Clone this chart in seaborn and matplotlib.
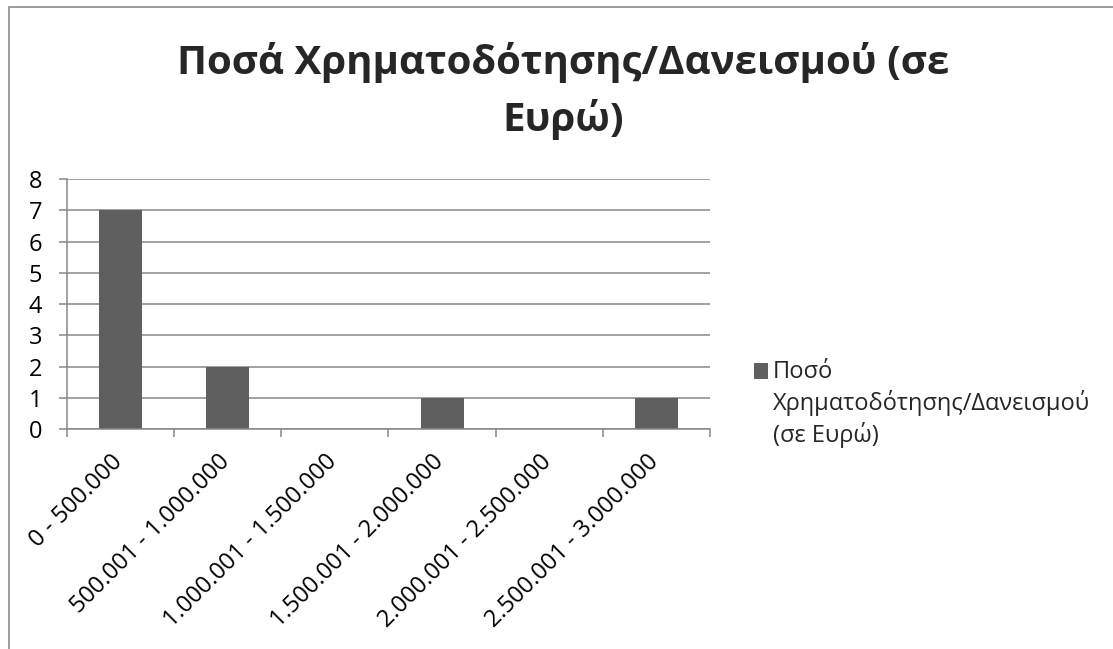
import matplotlib
matplotlib.use("Agg")
import matplotlib.pyplot as plt
import matplotlib.transforms as mtransforms
from matplotlib.patches import Rectangle
from matplotlib.legend_handler import HandlerPatch
import seaborn as sns
import pandas as pd
import numpy as np

categories = ["0 - 500.000", "500.001 - 1.000.000", "1.000.001 - 1.500.000",
              "1.500.001 - 2.000.000", "2.000.001 - 2.500.000", "2.500.001 - 3.000.000"]
values = [7, 2, 0, 1, 0, 1]
title = "Ποσά Χρηματοδότησης/Δανεισμού (σε\nΕυρώ)"
series_label = "Ποσό\nΧρηματοδότησης/Δανεισμού\n(σε Ευρώ)"
y_ticks = [0, 1, 2, 3, 4, 5, 6, 7, 8]

sns.set_theme(style="white")
plt.rcParams["font.family"] = ["Open Sans", "DejaVu Sans"]

BAR = "#5f5f5f"
GRID = "#878787"
FS = 17

fig = plt.figure(figsize=(11.13, 6.49), dpi=100)
ax = fig.add_axes([67/1113, 1-429/649, (710-67)/1113, (429-179)/649])

df = pd.DataFrame({"cat": categories, "val": values})
sns.barplot(data=df, x="cat", y="val", color=BAR, width=0.4, saturation=1, ax=ax,
            edgecolor=BAR, linewidth=0)

ax.set_xlim(-0.5, len(categories)-0.5)
ax.set_ylim(0, 8)
ax.set_xlabel("")
ax.set_ylabel("")

# y axis
ax.set_yticks(y_ticks)
ax.set_yticklabels([str(v) for v in y_ticks], fontsize=FS, color="black")
ax.yaxis.grid(True, color=GRID, linewidth=1.1)
ax.set_axisbelow(True)
ax.tick_params(axis="y", length=6, width=1.1, color=GRID, left=True, pad=12)

# x axis: major ticks at boundaries, labels at centers
ax.set_xticks(np.arange(-0.5, len(categories), 1.0))
ax.set_xticklabels([])
ax.set_xticks(np.arange(len(categories)), minor=True)
ax.set_xticklabels(categories, minor=True, fontsize=FS, rotation=45,
                   ha="right", va="top", rotation_mode="default", color="black")
ax.tick_params(axis="x", which="major", length=6, width=1.1, color=GRID, bottom=True)
ax.tick_params(axis="x", which="minor", length=0, pad=15)
for lab in ax.get_xticklabels(minor=True):
    lab.set_transform(lab.get_transform() + mtransforms.ScaledTranslation(7/100, 0, fig.dpi_scale_trans))

for s in ["top", "right"]:
    ax.spines[s].set_visible(False)
for s in ["left", "bottom"]:
    ax.spines[s].set_color(GRID)
    ax.spines[s].set_linewidth(1.1)

fig.text(563/1113, 1-91/649, title, ha="center", va="center", fontsize=29,
         fontweight="bold", linespacing=1.5)


def top_aligned_square(legend, orig_handle, xdescent, ydescent, width, height, fontsize):
    # place the legend swatch beside the first line of the multi-line label
    return Rectangle((-xdescent, -ydescent + 24), width, height)


handle = ax.patches[0]
leg = fig.legend([handle], [series_label], loc="upper left",
                 bbox_to_anchor=(749/1113, 1-355/649), frameon=False, fontsize=FS,
                 handlelength=0.62, handleheight=0.62, handletextpad=0.2,
                 borderpad=0.2, borderaxespad=0,
                 handler_map={type(handle): HandlerPatch(patch_func=top_aligned_square)})
for t in leg.get_texts():
    t.set_linespacing(1.3)

fig.add_artist(Rectangle((9/1113, -0.2), 1.2, (649-7)/649 + 0.2, transform=fig.transFigure,
                         fill=False, edgecolor="#8c8c8c", linewidth=1.2))

fig.savefig("out.png", dpi=100, facecolor="white")
